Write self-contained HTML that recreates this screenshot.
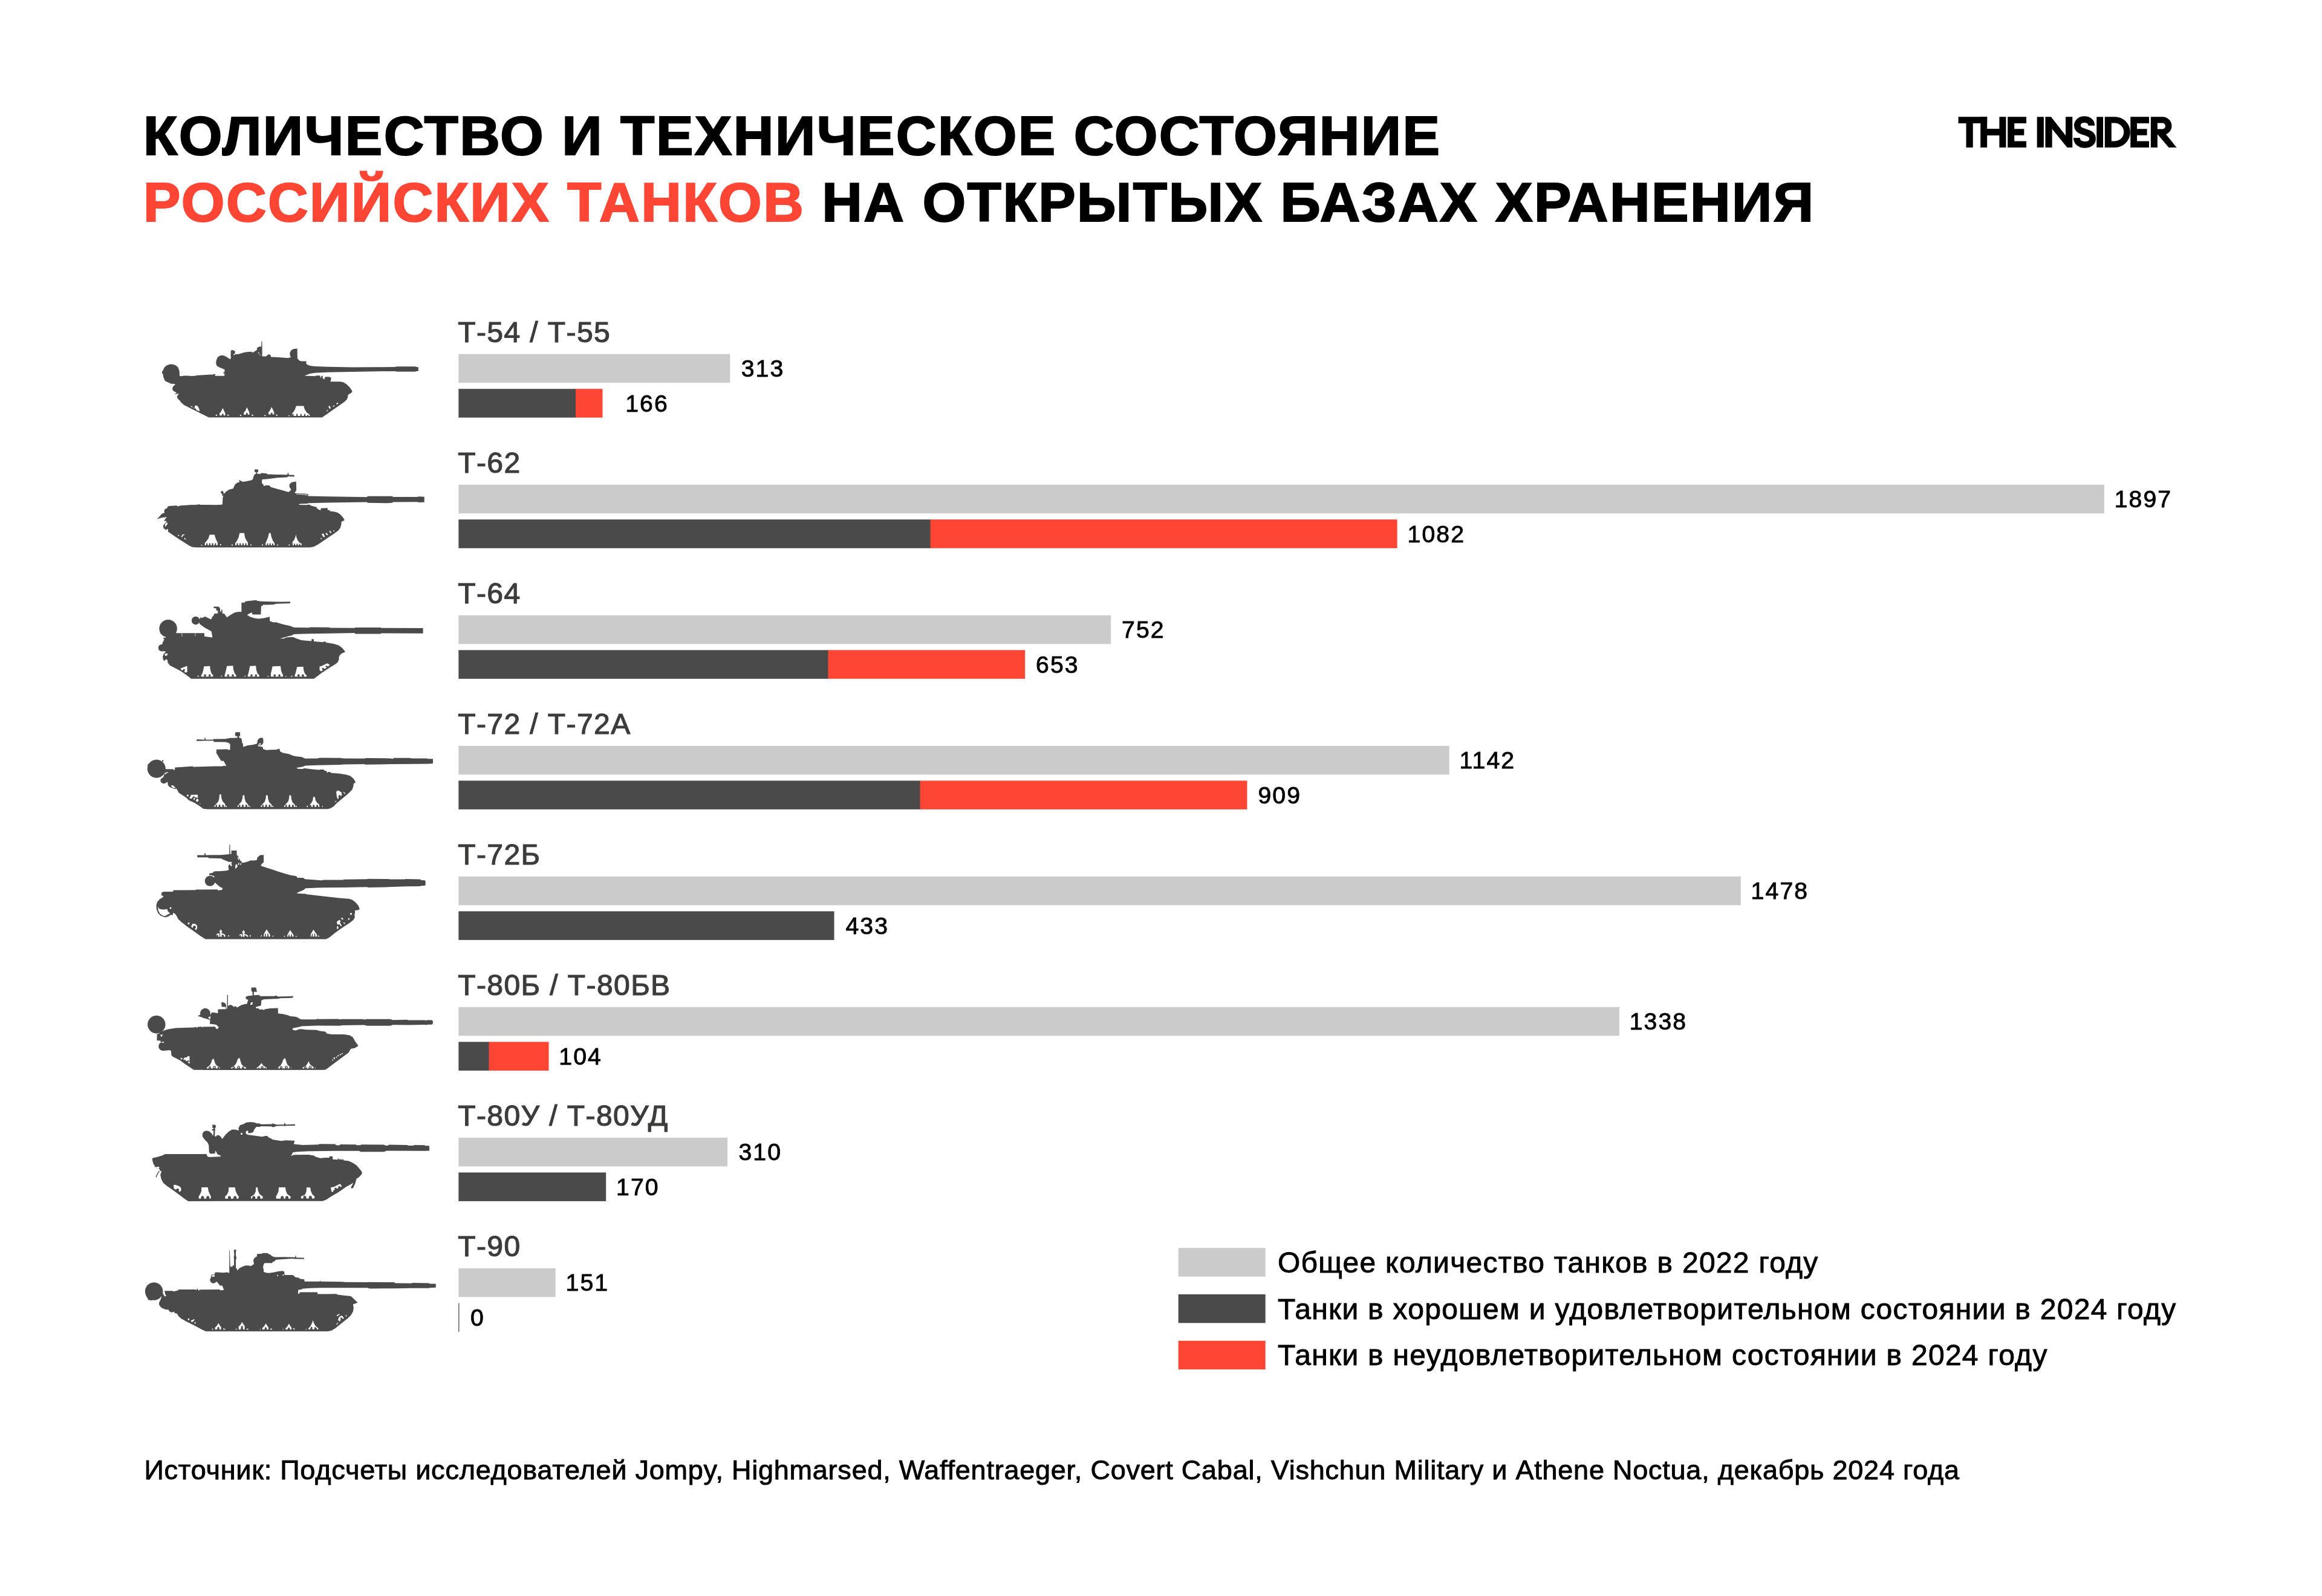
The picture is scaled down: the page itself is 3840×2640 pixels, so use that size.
<!DOCTYPE html>
<html lang="ru"><head><meta charset="utf-8"><title>chart</title>
<style>
html,body{margin:0;padding:0;background:#fff;}
body{width:3840px;height:2640px;position:relative;overflow:hidden;font-family:"Liberation Sans",sans-serif;color:#000;}
.a{position:absolute;white-space:nowrap;line-height:1;}
.t{font-weight:bold;font-size:90.5px;left:236.5px;letter-spacing:2.35px;-webkit-text-stroke:2.1px #000;transform:scaleX(1.02);transform-origin:0 0;}
.lab{font-size:48px;color:#3c3c3b;-webkit-text-stroke:1.2px #3c3c3b;left:757.2px;letter-spacing:1.42px;}
.num{font-size:39.2px;color:#000;-webkit-text-stroke:0.9px #000;letter-spacing:2.1px;}
.g{background:#cbcbcb;height:47.5px;}
.d{background:#4a4a4a;height:47.5px;}
.r{background:#ff4635;height:47.5px;}
.leg{font-size:48px;-webkit-text-stroke:0.9px #000;left:2112.9px;letter-spacing:1.28px;}
.src{font-size:45px;-webkit-text-stroke:0.9px #000;left:238.5px;letter-spacing:0.765px;}
svg{position:absolute;overflow:visible;}
#w{position:absolute;left:0;top:0;width:3840px;height:2640px;will-change:transform;}
</style></head><body><div id="w">

<div class="a t" style="top:180.1px">КОЛИЧЕСТВО И ТЕХНИЧЕСКОЕ СОСТОЯНИЕ</div>
<div class="a t" style="top:290.4px"><span style="color:#ff4635;-webkit-text-stroke-color:#ff4635">РОССИЙСКИХ ТАНКОВ</span> НА ОТКРЫТЫХ БАЗАХ ХРАНЕНИЯ</div>
<svg style="left:0;top:0" width="3840" height="300" viewBox="0 0 3840 300"><g fill="#000">
<g transform="translate(3230,180) scale(0.086133)">
<path d="M100,155H652V278H380V742H250V278H100Z"/>
<path d="M525,155H652V382H887V155H1015V742H887V510H652V742H525Z"/>
<path d="M1047,155H1405V278H1175V385H1362V508H1175V620H1405V742H1047Z"/>
<path d="M1610,155H1740V742H1610Z"/>
<path d="M1770,155H1880L2160,515V155H2290V742H2190L1900,385V742H1770Z"/>
</g>
<g transform="translate(3410,180) scale(0.086133)">
<path d="M567,322C567,250 510,205 432,205C350,205 295,255 295,320C295,400 360,420 440,445C530,472 587,500 587,575C587,645 525,690 440,690C350,690 283,640 283,558" fill="none" stroke="#000" stroke-width="125"/>
<path d="M665,155H790V742H665Z"/>
<path fill-rule="evenodd" d="M822,155H1020A290,293.5 0 0 1 1020,742H822ZM950,272H1010A177,174 0 0 1 1010,620H950Z"/>
<path d="M1315,155H1672V278H1440V385H1632V508H1440V620H1672V742H1315Z"/>
<path fill-rule="evenodd" d="M1705,155H1935A180,173 0 0 1 1995,488L2200,742H2050L1840,495H1833V742H1705ZM1833,272H1930A55,58 0 0 1 1930,388H1833Z"/>
</g></g></svg>

<div class="a lab" style="top:525.6px">Т-54 / Т-55</div>
<div class="a num" style="left:1225.7px;top:589.9px">313</div>
<div class="a num" style="left:1034.2px;top:647.5px">166</div>
<svg style="left:0;top:0" width="3840" height="2640" viewBox="0 0 3840 2640"><path fill="#4a4a4a" d="M297.21,622.33L302.38,622.02L303.41,621.50L312.71,621.50L313.75,622.02L323.05,621.81L324.08,620.98L349.92,619.43L350.96,619.95L353.02,619.12L356.64,619.12L355.09,621.81L371.11,621.81L371.42,617.88L369.04,617.36L369.56,615.81L371.63,615.30L371.11,613.23L372.14,611.68L367.49,609.61L361.29,607.03L358.19,604.44L357.16,600.83L357.67,596.18L359.74,591.01L363.36,588.42L367.49,587.70L371.63,588.73L375.76,591.01L380.41,594.32L381.96,592.04L381.45,587.91L381.76,580.16L383.00,579.12L386.61,579.43L388.68,581.19L388.68,584.29L386.61,585.84L386.10,587.91L389.20,586.05L394.37,585.84L399.53,584.29L404.70,582.74L410.90,581.91L416.07,581.71L417.62,583.26L421.24,581.19L425.37,578.60L424.86,576.02L426.41,574.47L429.51,573.23L432.09,573.23L432.30,564.65L433.44,564.65L433.64,589.46L440.36,589.46L441.91,587.39L445.01,586.05L447.60,587.39L448.11,590.49L456.38,590.80L466.72,591.52L477.05,592.25L478.09,591.52L481.19,591.01L479.64,587.91L479.33,583.77L481.19,579.64L485.32,577.36L491.52,576.54L491.58,576.54L491.89,593.07L493.44,594.63L495.50,596.69L498.60,597.42L506.36,597.42L506.87,599.28L505.84,600.83L508.42,603.41L513.07,604.96L521.34,605.99L542.02,606.72L583.36,607.55L624.70,607.34L653.64,607.03L655.71,606.20L686.72,606.20L688.27,607.03L691.89,607.24L691.89,613.75L688.27,613.95L686.72,614.78L655.71,614.78L653.64,613.95L624.70,614.26L583.36,614.99L542.02,615.81L521.34,616.64L513.07,617.88L507.39,619.95L503.77,621.81L519.28,622.02L521.34,622.53L522.38,621.19L528.58,621.19L529.61,622.53L530.65,621.81L533.23,621.81L533.95,623.26L533.54,625.32L536.33,627.70L537.36,624.08L538.91,623.26L545.12,623.57L547.70,625.32L547.18,629.04L546.15,631.32L552.35,631.32L562.69,631.32L567.86,632.35L573.02,635.45L578.19,640.62L581.81,645.79L582.53,648.37L579.22,650.96L575.61,653.02L575.09,657.16L573.54,660.78L569.92,664.39L562.69,669.56L552.35,676.80L542.02,684.03L532.71,690.44L345.27,690.44L332.35,684.03L313.75,674.73L304.44,670.08L299.28,665.43L297.21,662.33L294.63,660.26L292.87,657.16L293.59,654.06L296.18,650.96L288.94,651.99L292.04,648.89L288.42,647.86L285.84,645.79L285.01,642.69L286.36,639.07L289.97,635.97L287.91,634.94L282.74,634.63L277.57,632.35L272.92,630.28L270.34,624.08L269.30,618.09L268.06,617.88L268.06,613.95L269.30,613.75L269.82,611.68L272.40,607.03L276.54,603.93L281.71,602.58L286.36,602.79L291.01,604.44L294.63,608.06L296.69,613.75L297.00,622.02Z"/><path fill="#fff" d="M314.78,672.45L318.09,671.83L317.88,673.70L321.81,675.76L322.02,671.42L324.91,670.39L327.70,672.66L330.28,678.86L328.73,680.72L327.18,677.83L326.15,679.90L323.57,675.76ZM368.32,674.94L371.11,680.62L372.45,683.72L372.45,687.34L369.87,687.34L369.56,684.44L367.08,684.44L366.77,687.34L363.15,687.34L363.15,683.72L365.74,680.62ZM408.32,673.70L411.11,679.38L412.45,682.48L412.45,686.10L409.87,686.10L409.56,683.20L407.08,683.20L406.77,686.10L403.15,686.10L403.15,682.48L405.74,679.38ZM449.15,673.18L451.94,678.86L453.28,681.96L453.28,685.58L450.70,685.58L450.39,682.69L447.91,682.69L447.60,685.58L443.98,685.58L443.98,681.96L446.56,678.86ZM356.64,686.30L358.71,685.58L359.02,687.65L356.95,687.96ZM375.76,685.58L378.35,686.30L378.66,687.96L376.28,687.34ZM396.95,686.61L399.02,685.89L399.02,687.96L396.64,688.17ZM416.07,685.27L418.66,686.30L418.66,688.17L416.59,687.65ZM436.95,686.93L439.33,686.10L439.33,687.96L436.95,688.37ZM456.38,685.27L458.66,686.30L458.66,688.17L456.59,687.34ZM477.05,686.93L478.91,686.93L478.91,688.37L477.05,688.37ZM426.41,582.22L429.51,583.98L431.58,587.08L431.06,588.42L427.96,585.32ZM489.82,671.42L502.22,671.42L503.77,676.80L506.87,681.96L511.01,685.06L512.87,687.96L510.49,687.96L508.94,685.06L507.91,687.96L505.32,687.96L504.81,685.06L503.26,684.55L502.53,687.96L499.12,687.96L498.60,684.55L497.05,684.55L496.54,687.96L492.40,687.96L491.89,684.55L490.34,684.55L489.82,687.96L485.68,687.96L485.17,684.55L483.62,684.55L482.89,687.96L482.58,687.96L483.10,684.03L487.24,678.86ZM543.05,672.14L545.12,671.11L547.18,675.25L545.12,676.28ZM550.28,671.42L552.87,670.39L553.59,671.63L551.32,672.87ZM555.97,667.49L558.55,665.94L559.59,667.49L557.00,669.35ZM539.74,679.90L542.02,677.83L542.53,678.86L540.47,680.72ZM529.41,622.02L530.65,621.60L531.68,624.60L530.44,624.91Z"/><path fill="#4a4a4a" d="M427.96,584.29L429.51,583.57L431.78,587.08L430.54,587.70Z"/></svg>
<div class="a lab" style="top:741.6px">Т-62</div>
<div class="a num" style="left:3496.7px;top:805.9px">1897</div>
<div class="a num" style="left:2327.5px;top:863.5px">1082</div>
<svg style="left:0;top:0" width="3840" height="2640" viewBox="0 0 3840 2640"><path fill="#4a4a4a" d="M259.30,858.68L263.44,854.75L267.57,850.10L270.16,848.55L271.71,849.07L271.71,843.39L274.29,841.32L276.36,840.80L277.39,837.70L279.97,836.98L292.38,836.36L293.41,837.70L298.58,836.15L318.22,834.91L320.28,835.32L328.55,834.60L330.10,833.88L330.62,835.12L348.19,834.91L353.36,835.32L363.70,835.12L367.83,834.60L368.35,823.75L369.38,819.61L366.80,820.44L367.83,817.75L365.25,815.48L365.25,812.89L367.31,811.86L369.38,813.20L369.69,815.99L370.93,816.51L374.03,812.89L379.20,809.79L385.40,808.24L389.02,801.01L393.15,797.91L396.25,797.39L395.22,793.77L398.84,795.84L401.94,797.08L409.17,795.84L414.34,794.81L417.96,793.26L419.51,787.57L421.06,784.47L423.13,783.95L423.64,781.37L421.06,780.85L421.06,776.41L426.95,776.41L426.95,780.85L424.68,781.58L425.19,783.44L430.88,783.95L431.91,782.40L440.18,782.92L442.25,784.47L456.72,784.99L475.32,785.30L475.84,782.20L477.18,782.20L477.39,785.50L485.66,785.71L487.21,786.54L486.18,788.40L477.39,788.09L474.29,789.43L458.79,790.16L451.55,791.19L441.21,792.53L433.46,792.95L432.95,798.94L435.53,801.52L436.05,804.11L440.18,802.87L445.35,803.07L447.93,805.66L456.72,808.24L477.39,813.93L480.49,811.34L481.52,809.79L478.94,806.18L478.42,802.04L481.01,798.42L485.66,797.08L484.13,797.08L489.82,796.87L490.13,811.34L487.24,814.96L488.79,815.99L503.77,816.51L509.97,817.34L509.46,820.44L542.02,821.16L606.61,822.20L608.17,820.85L648.48,820.85L650.03,821.99L690.85,821.99L691.89,821.37L701.71,821.68L701.71,830.78L691.89,830.98L690.85,830.26L650.03,830.47L648.48,831.81L640.21,832.22L608.17,831.81L606.61,830.47L542.02,831.50L509.97,832.22L508.94,833.05L495.50,833.57L493.95,834.91L506.87,835.32L511.01,834.60L515.14,836.67L523.41,838.73L524.44,841.32L530.13,844.42L530.65,840.80L541.50,840.28L542.02,843.90L544.60,843.39L546.15,845.66L552.35,846.28L558.55,848.04L563.72,851.65L567.86,856.82L569.72,860.44L564.75,863.02L564.24,868.19L562.69,873.36L559.59,877.49L552.35,882.66L526.51,900.23L519.28,904.16L513.07,905.40L324.42,905.40L318.22,904.88L314.08,903.33L291.34,888.86L277.91,879.56L277.91,875.43L275.84,874.91L275.32,876.98L270.67,873.88L269.64,870.78L270.67,868.19L273.77,865.09L275.32,861.47L271.19,861.99L272.22,859.92L275.84,855.27L267.57,856.30Z"/><path fill="#fff" d="M273.26,866.64L276.36,863.54L277.08,866.64L274.81,869.74L272.74,871.81ZM293.93,885.25L295.99,884.52L296.51,886.28L294.44,886.59ZM299.61,887.83L301.68,884.21L304.78,883.70L305.30,884.73L302.71,885.76L301.16,888.86ZM304.26,890.41L305.81,889.38L307.36,891.96L306.33,892.79ZM346.64,884.52L354.91,884.52L355.94,888.86L358.01,894.03L360.08,897.65L359.77,898.68L338.68,898.68L340.96,895.58L344.57,890.93ZM338.68,898.17L341.06,898.17L341.06,902.09L338.68,902.09ZM343.33,898.17L345.71,898.17L345.71,902.09L343.33,902.09ZM348.09,898.17L350.36,898.17L350.36,902.09L348.09,902.09ZM352.74,898.17L355.12,898.17L355.12,902.09L352.74,902.09ZM357.39,898.17L359.77,898.17L359.77,902.09L357.39,902.09ZM396.25,881.63L404.01,881.63L405.04,888.86L407.62,894.03L410.00,897.65L410.00,898.68L389.02,898.68L392.12,894.03L394.70,888.86ZM389.02,898.17L391.40,898.17L391.40,902.09L389.02,902.09ZM393.67,898.17L396.05,898.17L396.05,902.09L393.67,902.09ZM398.32,898.17L400.70,898.17L400.70,902.09L398.32,902.09ZM402.97,898.17L405.35,898.17L405.35,902.09L402.97,902.09ZM407.62,898.17L410.00,898.17L410.00,902.09L407.62,902.09ZM444.83,881.83L447.62,881.83L448.97,888.86L451.55,895.06L454.13,898.17L454.13,898.99L438.94,898.99L440.70,895.06L443.28,888.86ZM439.15,898.17L441.32,898.17L441.32,902.09L439.15,902.09ZM443.39,898.17L445.56,898.17L445.56,902.09L443.39,902.09ZM447.73,898.17L449.90,898.17L449.90,902.09L447.73,902.09ZM451.96,898.17L454.13,898.17L454.13,902.09L451.96,902.09ZM332.69,901.06L334.24,901.06L334.24,902.51L332.69,902.51ZM363.70,899.72L365.76,900.44L365.97,902.30L363.90,901.78ZM382.82,900.75L384.88,900.44L384.88,902.30L383.13,902.51ZM413.82,900.23L415.89,900.75L415.89,902.51L414.13,902.09ZM432.95,900.75L435.01,900.44L435.01,902.30L433.15,902.51ZM458.27,900.44L459.82,900.75L460.03,902.51L458.58,902.30ZM477.39,900.75L479.25,900.44L479.25,902.30L477.60,902.51ZM489.30,884.21L490.34,888.86L492.40,894.03L495.50,897.65L498.60,899.20L498.60,899.82L483.62,899.20L483.62,896.61L486.20,893.51L488.27,888.86ZM483.93,898.68L486.10,898.68L486.10,902.09L483.93,902.09ZM488.17,898.68L490.34,898.68L490.34,902.09L488.17,902.09ZM492.40,898.68L494.57,898.68L494.57,902.09L492.40,902.09ZM496.64,898.68L498.81,898.68L498.81,902.09L496.64,902.09ZM531.68,883.70L534.78,882.14L537.36,887.83L535.30,888.86ZM537.88,882.14L540.47,881.42L542.53,884.73L540.98,885.56ZM544.08,878.53L546.15,878.01L548.22,881.11L546.98,882.14ZM551.11,877.70L552.87,876.98L553.18,878.32L551.52,879.35ZM530.13,890.41L531.68,889.69L532.20,890.93L530.65,891.96ZM489.82,817.03L503.77,817.75L508.94,818.37L508.42,819.20L502.74,818.58L490.34,817.75Z"/></svg>
<div class="a lab" style="top:957.7px">Т-64</div>
<div class="a num" style="left:1855.0px;top:1022.0px">752</div>
<div class="a num" style="left:1713.0px;top:1079.5px">653</div>
<svg style="left:0;top:0" width="3840" height="2640" viewBox="0 0 3840 2640"><path fill="#4a4a4a" d="M291.34,1047.33L337.86,1047.33L338.06,1052.70L351.29,1054.46L349.74,1044.43L337.86,1037.71L330.10,1032.03L329.59,1026.34L331.14,1021.38L334.75,1022.00L338.89,1019.63L348.19,1024.28L349.74,1024.07L350.78,1020.66L353.36,1018.07L354.39,1014.97L360.08,1014.77L360.39,1010.32L357.70,1009.81L357.49,1006.19L353.36,1005.67L353.36,1003.40L361.63,1003.40L363.70,1005.67L364.21,1011.36L365.76,1012.39L365.97,1008.57L367.62,1008.57L367.83,1014.97L370.93,1014.97L375.06,1021.18L382.30,1016.52L388.50,1013.11L394.70,1012.08L399.35,1012.08L399.35,996.89L405.04,996.58L405.56,994.82L411.24,994.10L423.64,992.75L425.71,994.10L431.91,994.82L451.55,995.13L462.92,995.54L479.97,995.34L479.97,997.92L456.72,998.64L452.58,999.99L441.21,1000.50L435.01,1000.30L434.50,1002.05L431.91,1002.57L431.40,1016.52L417.44,1016.52L416.61,1012.91L413.31,1014.46L408.66,1017.04L413.31,1020.14L420.54,1022.42L427.78,1023.45L436.05,1022.42L445.87,1020.35L446.38,1027.38L452.58,1029.44L456.72,1029.24L467.05,1032.55L479.46,1035.13L485.66,1037.71L490.34,1038.02L511.01,1038.23L513.07,1037.51L544.08,1037.71L546.15,1038.54L586.46,1038.75L587.49,1037.92L629.35,1037.92L630.39,1038.75L699.64,1038.95L699.64,1047.84L630.39,1047.53L629.35,1048.57L587.49,1048.57L586.46,1047.02L546.15,1047.84L511.01,1048.26L486.20,1049.08L482.07,1051.15L477.39,1052.18L462.92,1056.32L470.16,1056.32L472.22,1054.46L482.56,1053.73L485.17,1054.04L488.27,1055.28L490.34,1056.32L498.60,1058.90L515.14,1060.45L515.35,1057.35L518.76,1057.35L519.07,1060.97L534.78,1062.31L535.30,1061.28L538.40,1061.28L538.71,1062.73L552.35,1065.10L560.62,1067.69L565.79,1071.82L569.41,1075.96L570.96,1078.54L564.75,1081.12L561.65,1084.22L560.41,1087.33L560.62,1090.43L558.55,1095.59L554.42,1098.70L546.15,1103.86L531.68,1113.17L519.28,1122.67L316.15,1122.67L307.88,1116.27L299.61,1110.58L291.34,1105.93L281.01,1100.76L277.39,1096.11L276.87,1091.46L274.29,1090.43L271.71,1093.53L269.64,1090.43L269.12,1085.78L271.19,1081.12L274.29,1078.54L272.22,1076.99L267.57,1077.51L268.60,1063.55L271.71,1057.87L270.16,1056.32L271.19,1053.22L275.84,1051.15ZM292.89,1039.78L292.52,1043.07L291.43,1046.19L289.67,1049.00L287.33,1051.34L284.52,1053.09L281.40,1054.19L278.11,1054.56L274.83,1054.19L271.71,1053.09L268.89,1051.34L266.56,1049.00L264.80,1046.19L263.71,1043.07L263.33,1039.78L263.71,1036.49L264.80,1033.37L266.56,1030.56L268.89,1028.22L271.71,1026.47L274.83,1025.37L278.11,1025.00L281.40,1025.37L284.52,1026.47L287.33,1028.22L289.67,1030.56L291.43,1033.37L292.52,1036.49ZM273.36,1071.61L273.21,1072.91L272.79,1074.13L272.10,1075.22L271.18,1076.14L270.08,1076.83L268.86,1077.26L267.57,1077.40L266.28,1077.26L265.06,1076.83L263.96,1076.14L263.04,1075.22L262.35,1074.13L261.93,1072.91L261.78,1071.61L261.93,1070.32L262.35,1069.10L263.04,1068.01L263.96,1067.09L265.06,1066.40L266.28,1065.97L267.57,1065.83L268.86,1065.97L270.08,1066.40L271.18,1067.09L272.10,1068.01L272.79,1069.10L273.21,1070.32ZM330.31,1026.55L330.14,1028.05L329.65,1029.47L328.84,1030.74L327.78,1031.80L326.51,1032.61L325.09,1033.10L323.59,1033.27L322.09,1033.10L320.68,1032.61L319.41,1031.80L318.34,1030.74L317.53,1029.47L317.04,1028.05L316.87,1026.55L317.04,1025.05L317.53,1023.64L318.34,1022.36L319.41,1021.30L320.68,1020.49L322.09,1020.00L323.59,1019.83L325.09,1020.00L326.51,1020.49L327.78,1021.30L328.84,1022.36L329.65,1023.64L330.14,1025.05Z"/><path fill="#fff" d="M270.16,1052.18L274.29,1053.73L273.77,1055.08L270.67,1054.46ZM272.22,1081.64L276.67,1080.61L277.08,1083.71L273.26,1085.05ZM298.58,1105.41L303.75,1103.86L309.43,1101.59L309.74,1111.61L306.33,1112.65L304.78,1110.06L306.33,1107.48L303.75,1106.45L301.68,1109.03L299.61,1108.00ZM337.34,1102.31L347.16,1101.80L347.98,1108.67L349.74,1113.84L352.33,1116.89L352.33,1119.16L332.69,1119.16L332.69,1116.89L334.75,1113.84L336.10,1108.67ZM375.06,1101.80L385.40,1101.28L386.23,1108.41L387.98,1113.58L390.57,1116.89L390.57,1119.16L371.45,1119.16L371.45,1116.89L372.48,1113.58L373.82,1108.41ZM413.31,1101.80L423.13,1101.28L423.95,1108.41L425.71,1113.58L428.81,1116.89L428.81,1119.16L409.69,1119.16L409.69,1116.89L410.72,1113.58L412.07,1108.41ZM450.52,1102.31L463.95,1101.80L464.78,1108.67L466.54,1113.84L468.09,1116.89L468.09,1119.16L447.93,1119.16L447.93,1116.89L447.93,1113.84L449.28,1108.67ZM326.49,1118.13L329.07,1117.61L329.07,1118.95L326.49,1119.16ZM365.25,1118.13L367.31,1117.61L367.31,1118.95L365.25,1119.16ZM404.01,1118.33L406.07,1117.71L406.07,1119.06L404.01,1119.16ZM442.25,1118.33L444.32,1117.71L444.32,1119.06L442.25,1119.16ZM472.22,1118.13L473.77,1118.13L473.77,1119.16L472.22,1119.16ZM481.52,1118.13L483.07,1118.13L483.07,1119.16L481.52,1119.16ZM491.16,1103.35L501.50,1102.83L502.33,1109.19L504.08,1114.35L507.08,1116.89L507.08,1119.16L487.44,1119.16L487.44,1116.89L488.58,1114.35L489.92,1109.19ZM528.58,1102.31L531.68,1101.80L537.88,1098.70L540.98,1097.14L545.63,1099.73L542.02,1102.83L540.47,1100.76L538.40,1101.80L539.95,1104.90L536.33,1106.45L534.78,1104.38L532.20,1105.41L533.75,1109.03L530.65,1110.58L528.37,1108.00ZM481.03,1118.33L483.62,1117.82L483.62,1119.16L481.03,1119.37Z"/><path fill="#4a4a4a" d="M337.34,1119.16L337.34,1116.47L337.96,1115.54L340.03,1115.54L340.65,1116.47L340.65,1119.16ZM345.09,1119.16L345.09,1116.47L345.71,1115.54L347.78,1115.54L348.40,1116.47L348.40,1119.16ZM375.58,1119.16L375.58,1116.47L376.20,1115.54L378.27,1115.54L378.89,1116.47L378.89,1119.16ZM383.33,1119.16L383.33,1116.47L383.95,1115.54L386.02,1115.54L386.64,1116.47L386.64,1119.16ZM414.34,1119.16L414.34,1116.47L414.96,1115.54L417.03,1115.54L417.65,1116.47L417.65,1119.16ZM421.58,1119.16L421.58,1116.47L422.20,1115.54L424.26,1115.54L424.88,1116.47L424.88,1119.16ZM452.58,1119.16L452.58,1116.47L453.20,1115.54L455.27,1115.54L455.89,1116.47L455.89,1119.16ZM460.34,1119.16L460.34,1116.47L460.96,1115.54L463.02,1115.54L463.64,1116.47L463.64,1119.16ZM491.89,1119.16L491.89,1116.47L492.51,1115.54L494.88,1115.54L495.50,1116.47L495.50,1119.16ZM499.12,1119.16L499.12,1116.47L499.74,1115.54L502.12,1115.54L502.74,1116.47L502.74,1119.16Z"/><path fill="#fff" fill-opacity="0.55" d="M300.13,1047.53L301.47,1047.53L301.47,1052.70L300.13,1052.70ZM322.35,1047.53L323.59,1047.53L323.59,1052.18L322.35,1052.18Z"/></svg>
<div class="a lab" style="top:1173.7px">Т-72 / Т-72А</div>
<div class="a num" style="left:2413.5px;top:1238.0px">1142</div>
<div class="a num" style="left:2080.4px;top:1295.5px">909</div>
<svg style="left:0;top:0" width="3840" height="2640" viewBox="0 0 3840 2640"><path fill="#4a4a4a" d="M273.07,1272.18L286.51,1272.18L287.03,1273.73L289.10,1273.22L289.41,1269.60L312.35,1268.05L318.55,1267.53L319.59,1268.57L347.49,1267.84L353.70,1267.53L368.17,1267.53L368.68,1266.81L374.37,1267.02L371.27,1261.33L369.72,1258.75L365.58,1258.54L357.83,1245.83L357.83,1239.63L376.43,1239.32L377.47,1240.66L380.57,1239.63L380.57,1231.36L379.02,1229.29L373.33,1227.53L353.70,1227.22L353.18,1225.16L340.26,1225.16L325.79,1225.67L324.75,1224.12L325.79,1223.09L338.19,1223.40L338.71,1220.30L339.74,1220.30L340.05,1223.60L352.14,1223.60L353.18,1222.57L372.82,1222.36L380.57,1220.71L391.94,1220.50L392.97,1218.23L389.35,1217.40L388.63,1214.82L389.35,1211.20L396.59,1210.99L397.31,1214.82L396.59,1217.40L395.04,1218.23L395.56,1220.30L398.66,1221.02L400.00,1224.12L400.21,1228.26L401.76,1230.32L402.07,1235.49L409.51,1233.11L417.78,1232.08L425.01,1230.32L426.05,1224.12L429.15,1221.02L433.28,1220.30L435.14,1221.54L435.56,1228.26L433.28,1232.08L431.01,1232.39L430.18,1234.97L434.32,1235.49L435.14,1239.11L440.52,1240.66L446.72,1240.14L457.05,1239.94L462.22,1238.28L463.05,1242.73L467.39,1245.31L475.66,1246.86L480.00,1247.89L484.13,1249.96L490.34,1251.30L498.60,1252.03L501.71,1253.58L504.81,1254.82L525.48,1254.61L528.58,1253.58L562.69,1253.79L567.86,1254.61L601.96,1254.82L605.06,1254.10L645.37,1254.41L649.51,1255.13L651.58,1253.79L676.38,1253.79L681.55,1254.41L706.36,1254.41L707.39,1255.13L715.97,1255.13L715.97,1263.09L707.39,1263.40L681.55,1263.71L645.37,1264.12L605.06,1264.74L601.96,1263.91L567.86,1264.43L562.69,1264.95L525.48,1265.78L504.81,1266.50L500.67,1268.26L490.34,1270.12L492.40,1271.67L501.19,1271.98L502.22,1270.63L519.28,1272.70L528.58,1273.42L529.61,1272.70L535.81,1273.01L536.33,1274.77L539.95,1275.28L540.98,1278.59L542.53,1276.83L546.67,1277.14L547.18,1278.59L562.69,1279.63L573.02,1281.49L579.22,1283.55L584.39,1287.69L586.98,1291.82L588.01,1294.41L584.91,1295.96L584.39,1300.61L582.33,1306.29L576.12,1312.49L569.92,1317.66L562.69,1323.86L556.49,1329.03L551.32,1334.20L546.15,1337.30L542.02,1338.33L342.33,1338.54L336.12,1337.82L329.92,1333.17L322.69,1328.51L312.35,1323.86L308.22,1319.73L302.02,1315.59L295.81,1311.46L291.68,1304.22L289.61,1305.26L285.48,1303.71L280.31,1301.64L277.73,1298.54L277.21,1293.37L272.04,1296.16L267.91,1295.44L265.32,1292.34L265.84,1288.72L269.97,1285.62L271.01,1283.55ZM273.90,1271.67L273.52,1275.03L272.40,1278.21L270.60,1281.07L268.22,1283.46L265.35,1285.26L262.17,1286.37L258.81,1286.76L255.45,1286.37L252.27,1285.26L249.41,1283.46L247.02,1281.07L245.22,1278.21L244.10,1275.03L243.72,1271.67L244.10,1268.31L245.22,1265.12L247.02,1262.26L249.41,1259.87L252.27,1258.07L255.45,1256.96L258.81,1256.58L262.17,1256.96L265.35,1258.07L268.22,1259.87L270.60,1262.26L272.40,1265.12L273.52,1268.31ZM244.13,1264.95L246.20,1262.88L246.20,1275.28L244.13,1273.73ZM267.91,1257.20L269.97,1257.20L270.49,1259.78L268.42,1259.78Z"/><path fill="#fff" d="M272.04,1278.90L275.66,1277.35L276.38,1278.59L273.07,1280.97ZM276.18,1277.35L277.73,1276.83L278.04,1278.18L276.69,1278.59ZM282.89,1299.57L285.48,1298.85L289.61,1302.16L290.13,1303.71L286.51,1303.19L283.41,1301.12ZM308.73,1315.08L311.83,1314.35L311.32,1317.14L309.25,1317.14ZM313.39,1320.25L315.97,1314.77L326.82,1314.56L327.34,1319.73L323.72,1319.21L321.65,1317.66L319.59,1317.14L317.00,1320.76L314.94,1321.28ZM319.59,1321.80L321.65,1319.21L322.69,1319.73L321.14,1323.86ZM323.72,1324.90L325.27,1321.28L327.86,1321.80L328.37,1324.90L326.30,1326.45L324.96,1325.41ZM329.92,1328.51L331.47,1329.55L330.96,1330.58ZM427.08,1232.08L428.63,1229.29L430.70,1228.98L431.21,1230.84L429.15,1234.97L427.60,1234.97ZM363.00,1314.04L365.68,1314.04L366.30,1320.25L368.17,1325.62L371.27,1328.72L372.51,1330.58L372.51,1334.72L370.44,1334.72L370.03,1331.30L367.65,1330.89L367.34,1334.72L364.55,1334.72L364.24,1330.89L361.96,1330.89L361.55,1334.72L358.86,1334.72L358.86,1330.89L357.00,1331.30L356.59,1334.72L356.59,1330.58L358.86,1328.20L360.93,1325.93L362.48,1320.76ZM354.21,1332.65L356.28,1331.61L356.59,1334.20L354.52,1334.72ZM373.02,1332.65L375.09,1333.17L375.40,1334.72L373.54,1334.72ZM401.45,1315.39L404.13,1315.39L404.75,1321.59L406.61,1326.96L409.72,1330.06L410.96,1331.93L410.96,1334.72L408.89,1334.72L408.48,1331.30L406.10,1330.89L405.79,1334.72L403.00,1334.72L402.69,1330.89L400.41,1330.89L400.00,1334.72L397.31,1334.72L397.31,1330.89L395.45,1331.30L395.04,1334.72L395.04,1330.58L397.31,1328.20L399.38,1325.93L400.93,1320.76ZM392.66,1332.65L394.73,1331.61L395.04,1334.20L392.97,1334.72ZM411.47,1332.65L413.54,1333.17L413.85,1334.72L411.99,1334.72ZM440.00,1315.39L442.69,1315.39L443.31,1321.59L445.17,1326.96L448.27,1330.06L449.51,1331.93L449.51,1334.72L447.44,1334.72L447.03,1331.30L444.65,1330.89L444.34,1334.72L441.55,1334.72L441.24,1330.89L438.97,1330.89L438.55,1334.72L435.87,1334.72L435.87,1330.89L434.01,1331.30L433.59,1334.72L433.59,1330.58L435.87,1328.20L437.93,1325.93L439.48,1320.76ZM431.21,1332.65L433.28,1331.61L433.59,1334.20L431.52,1334.72ZM450.03,1332.65L452.09,1333.17L452.40,1334.72L450.54,1334.72ZM478.55,1315.59L481.24,1315.59L481.86,1321.80L483.72,1327.17L486.82,1330.27L488.06,1332.13L488.06,1334.72L485.99,1334.72L485.58,1331.30L483.20,1330.89L482.89,1334.72L480.10,1334.72L479.79,1330.89L477.52,1330.89L477.11,1334.72L474.42,1334.72L474.42,1330.89L472.56,1331.30L472.14,1334.72L472.14,1330.58L474.42,1328.20L476.49,1325.93L478.04,1320.76ZM469.77,1332.65L471.83,1331.61L472.14,1334.20L470.08,1334.72ZM488.58,1332.65L490.65,1333.17L490.96,1334.72L489.10,1334.72ZM518.04,1318.18L520.72,1318.18L521.76,1323.86L524.44,1328.00L527.86,1330.58L528.37,1334.72L526.30,1334.72L525.89,1331.61L523.41,1331.30L523.00,1334.72L520.31,1334.72L519.90,1331.30L517.52,1331.30L517.21,1334.72L514.94,1334.72L514.52,1331.61L513.07,1331.93L512.87,1334.72L512.87,1330.58L515.14,1328.00L517.21,1323.86ZM507.08,1333.17L508.94,1332.65L509.15,1334.72L507.39,1335.03ZM532.71,1332.96L533.95,1333.17L533.95,1334.72L532.71,1334.72ZM555.97,1309.39L559.59,1307.33L562.69,1309.39L564.75,1310.43L565.27,1314.56L564.24,1317.14L561.65,1314.56L559.59,1316.63L560.10,1320.76L558.55,1321.80L557.00,1318.18L556.49,1313.53ZM567.34,1310.43L568.89,1310.22L571.47,1312.49L570.75,1313.53ZM554.21,1325.41L555.97,1324.38L556.28,1325.72L554.63,1326.96Z"/><path fill="#4a4a4a" d="M428.32,1229.81L429.97,1229.81L428.63,1232.70L427.91,1232.08Z"/></svg>
<div class="a lab" style="top:1389.7px">Т-72Б</div>
<div class="a num" style="left:2895.6px;top:1454.0px">1478</div>
<div class="a num" style="left:1398.4px;top:1511.6px">433</div>
<svg style="left:0;top:0" width="3840" height="2640" viewBox="0 0 3840 2640"><path fill="#4a4a4a" d="M267.07,1477.90L267.61,1476.29L270.30,1474.89L285.91,1474.89L286.77,1472.52L323.60,1472.30L324.67,1471.23L328.44,1471.44L359.66,1471.23L360.74,1473.06L367.74,1471.66L367.74,1468.75L363.97,1467.35L356.97,1461.21L354.28,1458.52L353.20,1453.68L352.67,1449.91L350.51,1447.76L346.21,1447.76L346.21,1444.74L351.05,1443.99L354.82,1441.30L363.43,1441.08L374.20,1440.22L378.51,1438.93L377.43,1432.68L379.58,1429.45L382.81,1427.84L383.89,1425.68L378.51,1425.68L374.20,1424.07L368.82,1421.70L365.59,1419.98L345.13,1419.55L344.05,1418.15L326.83,1418.15L325.96,1416.53L326.29,1414.38L338.13,1414.38L338.13,1411.37L339.75,1411.37L339.96,1414.38L351.59,1414.16L364.51,1414.16L374.20,1413.52L379.15,1413.09L379.37,1396.94L380.44,1396.94L380.66,1413.09L382.60,1412.76L382.60,1407.06L391.43,1406.84L391.64,1414.38L394.12,1416.53L395.73,1420.84L397.89,1424.07L400.04,1425.68L399.50,1427.30L404.35,1426.76L411.88,1424.61L412.96,1423.53L421.57,1423.21L424.80,1422.45L425.66,1418.15L430.19,1414.38L436.11,1414.16L436.11,1426.22L432.88,1428.91L431.26,1432.14L437.72,1434.30L442.03,1435.70L449.57,1438.07L460.33,1441.83L471.10,1445.06L480.77,1447.76L490.46,1449.37L491.53,1452.06L501.22,1452.06L504.45,1454.22L532.45,1456.15L534.60,1455.51L566.90,1455.51L569.05,1454.75L606.74,1454.22L608.89,1453.68L642.27,1454.00L644.42,1454.43L669.18,1454.43L670.26,1454.00L695.02,1454.43L696.10,1455.83L702.56,1456.15L703.63,1457.45L703.63,1463.91L702.56,1464.98L696.10,1465.20L695.02,1466.06L670.26,1466.27L642.27,1467.35L608.89,1468.00L606.74,1467.14L569.05,1468.00L532.45,1468.21L505.53,1469.29L502.30,1471.98L495.84,1474.67L490.46,1477.36L493.15,1478.12L505.53,1478.44L506.61,1479.19L534.60,1482.42L561.52,1485.44L577.67,1486.73L583.05,1488.67L588.43,1492.98L592.74,1498.36L594.89,1503.74L592.74,1505.36L586.82,1505.90L587.36,1508.05L586.28,1513.43L586.82,1517.20L584.13,1522.05L577.67,1526.89L566.90,1533.89L556.13,1541.43L544.29,1551.12L538.91,1553.48L339.75,1553.48L331.13,1547.89L320.37,1540.35L309.60,1532.81L298.83,1524.20L294.53,1519.89L292.37,1515.59L290.22,1512.36L286.45,1509.66L285.70,1513.43L281.61,1513.43L278.38,1516.12L272.99,1517.20L265.99,1515.05L261.15,1510.20L258.78,1503.74L258.46,1497.28L260.07,1491.90L263.84,1487.59L269.22,1484.36L270.30,1482.21L267.07,1481.13ZM355.79,1457.23L355.57,1459.13L354.95,1460.92L353.94,1462.54L352.59,1463.88L350.98,1464.90L349.18,1465.52L347.28,1465.74L345.39,1465.52L343.59,1464.90L341.97,1463.88L340.63,1462.54L339.62,1460.92L338.99,1459.13L338.78,1457.23L338.99,1455.34L339.62,1453.54L340.63,1451.92L341.97,1450.58L343.59,1449.57L345.39,1448.94L347.28,1448.73L349.18,1448.94L350.98,1449.57L352.59,1450.58L353.94,1451.92L354.95,1453.54L355.57,1455.34Z"/><path fill="#fff" d="M260.93,1498.90L262.76,1502.67L266.53,1504.28L271.92,1504.60L276.76,1503.74L277.30,1506.97L279.45,1509.13L281.61,1511.06L279.45,1511.49L276.22,1513.43L272.99,1515.37L268.69,1514.51L264.38,1511.28L261.69,1505.90ZM310.14,1527.21L312.29,1525.49L313.91,1526.89L311.75,1529.58ZM316.06,1532.81L318.21,1527.97L322.52,1527.97L325.75,1530.66L326.29,1534.43L324.67,1538.20L321.98,1537.12L324.13,1533.89L323.06,1531.20L320.37,1531.20L318.21,1534.97ZM380.87,1428.38L382.27,1427.84L383.89,1432.14L381.74,1432.68L380.12,1430.53ZM389.81,1429.99L391.96,1429.45L392.72,1433.76L389.27,1437.53L389.06,1432.68ZM394.12,1427.30L395.73,1427.08L395.19,1430.53L393.58,1431.07ZM397.35,1428.38L398.96,1427.30L398.42,1430.53L397.02,1431.07ZM392.72,1418.15L394.12,1417.61L395.19,1421.92L394.12,1422.45ZM351.59,1448.83L353.20,1448.40L354.82,1450.99L353.74,1451.42ZM365.05,1537.12L367.74,1541.43L366.45,1541.96L366.66,1544.12L370.43,1544.87L372.58,1546.81L372.58,1549.50L370.43,1549.50L369.89,1546.81L366.66,1545.73L366.66,1549.50L363.97,1549.50L363.97,1541.96L362.36,1541.64ZM362.89,1544.12L362.89,1549.50L360.74,1549.50L360.42,1545.73L358.59,1546.27L358.26,1549.50L357.83,1545.73L359.66,1544.12ZM377.21,1547.02L379.04,1547.35L379.04,1549.18L377.21,1548.96ZM402.73,1538.20L405.42,1542.50L404.13,1543.04L404.35,1545.19L408.11,1545.95L410.27,1547.89L410.27,1549.50L408.11,1549.50L407.58,1547.89L404.35,1546.81L404.35,1549.50L401.65,1549.50L401.65,1543.04L400.04,1542.72ZM400.58,1545.19L400.58,1549.50L398.42,1549.50L398.10,1546.81L396.27,1547.35L395.95,1549.50L395.52,1546.81L397.35,1545.19ZM412.96,1547.02L414.90,1547.35L414.90,1549.18L412.96,1548.96ZM440.95,1537.33L444.18,1542.50L446.34,1545.19L446.87,1549.18L444.18,1549.18L443.64,1545.19L442.24,1543.04L442.03,1549.18L439.66,1549.18L439.66,1543.36L438.26,1545.19L437.72,1549.18L436.11,1549.18L436.43,1544.66L438.26,1541.64ZM431.80,1547.35L433.42,1546.81L432.34,1549.18L431.05,1549.18ZM450.64,1547.67L452.26,1547.67L452.26,1549.18L450.64,1549.18ZM479.93,1538.73L483.16,1543.90L485.31,1546.59L485.85,1549.18L483.16,1549.18L482.62,1546.59L481.22,1544.44L481.00,1549.18L478.63,1549.18L478.63,1544.76L477.24,1546.59L476.70,1549.18L475.08,1549.18L475.40,1546.06L477.24,1543.04ZM469.48,1547.89L471.10,1547.89L471.10,1549.39L469.48,1549.39ZM489.19,1547.89L490.48,1547.89L490.48,1549.39L489.19,1549.39ZM283.65,1502.13L283.61,1502.46L283.50,1502.78L283.32,1503.06L283.08,1503.30L282.80,1503.48L282.48,1503.59L282.14,1503.63L281.81,1503.59L281.49,1503.48L281.21,1503.30L280.97,1503.06L280.79,1502.78L280.68,1502.46L280.64,1502.13L280.68,1501.79L280.79,1501.47L280.97,1501.19L281.21,1500.95L281.49,1500.77L281.81,1500.66L282.14,1500.62L282.48,1500.66L282.80,1500.77L283.08,1500.95L283.32,1501.19L283.50,1501.47L283.61,1501.79ZM479.91,1538.41L483.14,1543.58L485.29,1546.27L485.83,1549.18L483.14,1549.18L482.60,1546.27L481.20,1544.12L480.98,1549.18L478.61,1549.18L478.61,1544.44L477.21,1546.27L476.68,1549.18L475.06,1549.18L475.38,1545.73L477.21,1542.72ZM488.84,1547.89L489.92,1547.89L489.92,1549.18L488.84,1549.18ZM518.45,1537.66L521.68,1542.83L523.83,1545.52L524.37,1549.18L521.68,1549.18L521.14,1545.52L519.74,1543.36L519.53,1549.18L517.16,1549.18L517.16,1543.69L515.76,1545.52L515.22,1549.18L513.60,1549.18L513.93,1544.98L515.76,1541.96ZM525.77,1547.02L528.14,1548.75L527.60,1549.82L525.45,1548.42ZM556.99,1524.74L560.98,1521.51L563.67,1523.66L562.05,1525.81L565.28,1531.20L563.67,1532.27L561.52,1529.04L558.82,1529.58L557.42,1527.97ZM557.21,1532.81L558.82,1531.52L559.90,1534.97L558.07,1536.90L556.99,1535.50ZM563.67,1518.82L565.82,1517.74L567.98,1520.43L566.36,1521.51ZM567.44,1526.14L569.05,1525.81L571.21,1527.97L570.13,1528.51ZM575.51,1519.35L577.67,1518.60L578.20,1520.75L576.37,1521.83ZM578.74,1510.42L581.76,1509.99L581.76,1512.89L579.28,1513.43Z"/></svg>
<div class="a lab" style="top:1605.8px">Т-80Б / Т-80БВ</div>
<div class="a num" style="left:2694.7px;top:1670.1px">1338</div>
<div class="a num" style="left:924.3px;top:1727.6px">104</div>
<svg style="left:0;top:0" width="3840" height="2640" viewBox="0 0 3840 2640"><path fill="#4a4a4a" d="M272.87,1703.90L279.28,1702.35L290.65,1700.49L320.62,1699.46L324.75,1698.73L325.79,1700.28L327.86,1698.22L330.96,1698.73L332.51,1697.70L333.54,1699.25L336.12,1698.42L349.56,1698.22L355.76,1698.22L357.31,1701.32L359.38,1702.35L361.45,1699.77L358.86,1697.18L357.83,1695.12L346.98,1693.57L347.49,1687.36L326.82,1680.44L330.96,1678.58L339.22,1678.58L348.01,1678.58L350.59,1674.44L360.41,1675.99L360.41,1669.48L373.33,1669.28L373.33,1665.66L366.61,1665.14L366.10,1658.11L369.20,1658.11L372.30,1659.46L373.85,1662.04L374.37,1668.76L375.61,1668.76L375.61,1645.71L376.95,1645.71L376.95,1664.11L380.05,1662.25L383.15,1662.56L385.74,1664.63L387.29,1665.66L388.84,1664.11L391.42,1665.66L391.94,1666.69L398.14,1663.07L404.34,1661.01L408.48,1660.49L409.51,1656.87L410.54,1653.98L406.61,1652.22L406.41,1648.81L410.54,1647.36L417.57,1646.74L417.57,1641.16L415.71,1638.79L415.50,1633.62L423.46,1633.62L424.50,1638.79L425.53,1640.34L419.84,1640.85L419.84,1646.33L429.15,1645.71L429.66,1647.78L453.95,1647.78L454.99,1647.05L458.09,1647.36L459.12,1648.40L480.00,1648.09L484.65,1647.40L484.65,1650.30L480.00,1650.67L462.22,1651.19L461.19,1651.91L453.95,1652.22L436.38,1652.95L432.25,1654.81L431.73,1663.28L422.95,1665.66L423.46,1667.73L428.11,1668.24L429.15,1670.10L433.28,1669.48L436.38,1670.83L438.45,1669.28L446.72,1668.04L459.64,1667.42L459.95,1676.51L467.39,1677.34L476.69,1679.61L480.00,1680.99L486.20,1681.51L491.37,1682.55L495.50,1685.13L498.60,1686.16L523.41,1686.16L524.44,1685.13L527.55,1685.65L559.59,1685.44L561.65,1686.16L565.79,1685.85L599.90,1685.65L601.96,1686.47L607.13,1685.65L645.37,1685.65L649.51,1687.20L673.28,1686.68L675.35,1687.51L702.22,1687.51L705.32,1687.92L707.39,1687.20L714.63,1687.51L715.87,1689.26L715.87,1692.88L714.63,1694.74L707.39,1694.74L705.32,1695.47L702.22,1694.95L676.38,1695.47L649.51,1695.16L645.37,1696.81L607.13,1696.81L601.96,1695.47L565.79,1695.98L561.65,1696.81L524.44,1696.50L498.60,1697.53L493.44,1699.08L484.13,1700.63L484.13,1703.73L489.30,1704.46L493.44,1702.70L498.60,1702.18L505.84,1703.22L523.41,1703.73L528.58,1705.28L535.81,1706.32L538.91,1706.83L539.95,1709.42L548.22,1710.97L568.89,1710.97L578.19,1712.52L583.36,1715.62L587.49,1722.86L592.66,1730.09L586.46,1733.71L580.26,1734.74L578.19,1738.36L576.12,1741.46L568.89,1746.63L552.35,1759.03L538.91,1769.37L320.62,1769.74L312.35,1764.37L306.15,1760.23L297.88,1754.03L285.48,1747.83L283.41,1745.25L282.89,1738.53L280.31,1736.98L276.69,1737.49L271.01,1738.01L265.32,1721.47L259.43,1720.96L259.64,1710.62L262.22,1710.10L266.87,1706.49ZM273.59,1694.60L273.22,1697.89L272.12,1701.01L270.37,1703.82L268.03,1706.16L265.22,1707.91L262.10,1709.01L258.81,1709.38L255.52,1709.01L252.40,1707.91L249.59,1706.16L247.26,1703.82L245.50,1701.01L244.40,1697.89L244.03,1694.60L244.40,1691.31L245.50,1688.19L247.26,1685.38L249.59,1683.04L252.40,1681.29L255.52,1680.19L258.81,1679.82L262.10,1680.19L265.22,1681.29L268.03,1683.04L270.37,1685.38L272.12,1688.19L273.22,1691.31ZM347.80,1676.20L347.60,1678.06L346.98,1679.83L345.97,1681.42L344.65,1682.74L343.06,1683.75L341.29,1684.37L339.43,1684.57L337.57,1684.37L335.80,1683.75L334.21,1682.74L332.89,1681.42L331.89,1679.83L331.27,1678.06L331.06,1676.20L331.27,1674.34L331.89,1672.57L332.89,1670.98L334.21,1669.66L335.80,1668.66L337.57,1668.04L339.43,1667.83L341.29,1668.04L343.06,1668.66L344.65,1669.66L345.97,1670.98L346.98,1672.57L347.60,1674.34ZM276.69,1730.78L276.51,1732.39L275.98,1733.92L275.11,1735.28L273.96,1736.43L272.60,1737.30L271.07,1737.82L269.46,1738.01L267.84,1737.82L266.32,1737.30L264.95,1736.43L263.80,1735.28L262.94,1733.92L262.41,1732.39L262.22,1730.78L262.41,1729.16L262.94,1727.63L263.80,1726.27L264.95,1725.12L266.32,1724.25L267.84,1723.73L269.46,1723.54L271.07,1723.73L272.60,1724.25L273.96,1725.12L275.11,1726.27L275.98,1727.63L276.51,1729.16Z"/><path fill="#fff" d="M265.01,1711.65L268.94,1711.14L268.42,1713.72L266.67,1715.27ZM267.08,1724.06L269.97,1723.02L272.04,1724.57L267.39,1725.09ZM343.88,1683.23L348.01,1680.65L347.70,1686.33ZM355.76,1698.73L358.86,1695.63L359.90,1697.70L361.96,1698.22L360.41,1700.28L359.90,1702.35L357.83,1701.32ZM413.64,1662.04L415.19,1658.11L417.98,1657.70L417.26,1662.04ZM297.88,1750.41L300.98,1749.69L302.02,1751.45L299.95,1752.48ZM303.05,1751.96L306.15,1748.86L308.22,1749.38L310.28,1747.31L313.39,1746.80L313.59,1755.58L311.32,1754.03L308.73,1755.06L306.15,1754.03L306.67,1751.96L304.60,1753.51ZM310.28,1756.61L312.35,1755.58L314.42,1758.17L312.87,1759.20ZM549.04,1753.35L550.28,1752.31L551.11,1753.66L549.77,1754.90ZM551.32,1749.73L553.39,1748.70L554.21,1751.28L552.35,1752.31ZM555.45,1748.18L557.00,1747.45L557.52,1749.21L556.28,1749.94ZM558.04,1745.80L560.10,1745.08L560.62,1746.83L558.76,1747.66ZM561.65,1744.04L563.93,1743.32L564.24,1744.77L562.17,1745.80ZM564.75,1742.49L566.82,1741.98L567.03,1743.32L565.27,1744.04ZM353.26,1751.01L354.81,1756.18L356.36,1760.31L358.94,1762.89L363.59,1765.99L363.59,1767.75L341.89,1767.75L341.89,1765.99L346.54,1762.38L349.12,1758.24L350.67,1753.07ZM396.15,1749.46L397.70,1755.14L399.25,1760.31L402.35,1763.41L407.00,1765.99L407.00,1767.75L382.20,1767.75L382.20,1765.99L387.88,1762.38L390.98,1758.24L393.05,1752.04ZM432.33,1758.45L435.43,1762.38L441.11,1766.30L441.11,1767.75L424.57,1767.75L424.57,1766.51L429.22,1762.38ZM471.60,1749.97L473.15,1755.14L474.70,1760.31L477.80,1763.41L481.94,1765.99L481.94,1767.75L460.23,1767.75L460.23,1765.48L464.37,1761.86L466.43,1758.24L468.50,1752.56ZM510.36,1755.14L512.43,1760.31L516.05,1763.41L521.73,1765.99L521.73,1767.75L500.54,1767.75L500.54,1765.68L505.71,1762.89L508.29,1759.79Z"/><path fill="#4a4a4a" d="M349.02,1765.68L348.82,1766.53L348.27,1767.22L347.49,1767.60L346.62,1767.60L345.83,1767.22L345.29,1766.53L345.09,1765.68L345.29,1764.84L345.83,1764.14L346.62,1763.77L347.49,1763.77L348.27,1764.14L348.82,1764.84ZM345.09,1765.68L349.02,1765.68L349.02,1768.17L345.09,1768.17ZM356.98,1765.48L356.74,1766.51L356.08,1767.34L355.13,1767.79L354.07,1767.79L353.12,1767.34L352.46,1766.51L352.22,1765.48L352.46,1764.44L353.12,1763.62L354.07,1763.16L355.13,1763.16L356.08,1763.62L356.74,1764.44ZM352.22,1765.48L356.98,1765.48L356.98,1767.96L352.22,1767.96ZM362.35,1766.20L362.22,1766.78L361.84,1767.26L361.31,1767.51L360.71,1767.51L360.17,1767.26L359.80,1766.78L359.66,1766.20L359.80,1765.62L360.17,1765.15L360.71,1764.89L361.31,1764.89L361.84,1765.15L362.22,1765.62ZM359.66,1766.20L362.35,1766.20L362.35,1768.68L359.66,1768.68ZM388.60,1765.68L388.41,1766.53L387.86,1767.22L387.07,1767.60L386.21,1767.60L385.42,1767.22L384.87,1766.53L384.68,1765.68L384.87,1764.84L385.42,1764.14L386.21,1763.77L387.07,1763.77L387.86,1764.14L388.41,1764.84ZM384.68,1765.68L388.60,1765.68L388.60,1768.17L384.68,1768.17ZM396.98,1765.48L396.74,1766.51L396.08,1767.34L395.13,1767.79L394.07,1767.79L393.12,1767.34L392.46,1766.51L392.22,1765.48L392.46,1764.44L393.12,1763.62L394.07,1763.16L395.13,1763.16L396.08,1763.62L396.74,1764.44ZM392.22,1765.48L396.98,1765.48L396.98,1767.96L392.22,1767.96ZM403.59,1765.79L403.42,1766.55L402.93,1767.16L402.23,1767.50L401.44,1767.50L400.74,1767.16L400.25,1766.55L400.08,1765.79L400.25,1765.02L400.74,1764.41L401.44,1764.07L402.23,1764.07L402.93,1764.41L403.42,1765.02ZM400.08,1765.79L403.59,1765.79L403.59,1768.27L400.08,1768.27ZM435.84,1765.48L435.62,1766.42L435.02,1767.17L434.16,1767.60L433.18,1767.60L432.32,1767.17L431.72,1766.42L431.50,1765.48L431.72,1764.54L432.32,1763.78L433.18,1763.36L434.16,1763.36L435.02,1763.78L435.62,1764.54ZM431.50,1765.48L435.84,1765.48L435.84,1767.96L431.50,1767.96ZM429.12,1766.72L429.03,1767.12L428.77,1767.44L428.40,1767.63L427.98,1767.63L427.61,1767.44L427.35,1767.12L427.26,1766.72L427.35,1766.32L427.61,1765.99L427.98,1765.81L428.40,1765.81L428.77,1765.99L429.03,1766.32ZM427.26,1766.72L429.12,1766.72L429.12,1769.20L427.26,1769.20ZM439.46,1766.72L439.36,1767.12L439.11,1767.44L438.73,1767.63L438.32,1767.63L437.95,1767.44L437.69,1767.12L437.60,1766.72L437.69,1766.32L437.95,1765.99L438.32,1765.81L438.73,1765.81L439.11,1765.99L439.36,1766.32ZM437.60,1766.72L439.46,1766.72L439.46,1769.20L437.60,1769.20ZM466.95,1765.48L466.74,1766.38L466.18,1767.09L465.35,1767.49L464.42,1767.49L463.59,1767.09L463.02,1766.38L462.82,1765.48L463.02,1764.58L463.59,1763.87L464.42,1763.46L465.35,1763.46L466.18,1763.87L466.74,1764.58ZM462.82,1765.48L466.95,1765.48L466.95,1767.96L462.82,1767.96ZM475.84,1765.27L475.60,1766.30L474.94,1767.13L473.99,1767.59L472.94,1767.59L471.98,1767.13L471.32,1766.30L471.09,1765.27L471.32,1764.24L471.98,1763.41L472.94,1762.96L473.99,1762.96L474.94,1763.41L475.60,1764.24ZM471.09,1765.27L475.84,1765.27L475.84,1767.75L471.09,1767.75ZM481.52,1765.79L481.36,1766.50L480.90,1767.08L480.24,1767.40L479.50,1767.40L478.84,1767.08L478.38,1766.50L478.22,1765.79L478.38,1765.07L478.84,1764.50L479.50,1764.18L480.24,1764.18L480.90,1764.50L481.36,1765.07ZM478.22,1765.79L481.52,1765.79L481.52,1768.27L478.22,1768.27ZM506.85,1765.48L506.65,1766.33L506.10,1767.02L505.32,1767.39L504.45,1767.39L503.66,1767.02L503.12,1766.33L502.92,1765.48L503.12,1764.63L503.66,1763.94L504.45,1763.57L505.32,1763.57L506.10,1763.94L506.65,1764.63ZM502.92,1765.48L506.85,1765.48L506.85,1767.96L502.92,1767.96ZM515.32,1765.27L515.09,1766.30L514.42,1767.13L513.47,1767.59L512.42,1767.59L511.47,1767.13L510.81,1766.30L510.57,1765.27L510.81,1764.24L511.47,1763.41L512.42,1762.96L513.47,1762.96L514.42,1763.41L515.09,1764.24ZM510.57,1765.27L515.32,1765.27L515.32,1767.75L510.57,1767.75ZM521.01,1766.10L520.87,1766.68L520.50,1767.15L519.96,1767.41L519.36,1767.41L518.83,1767.15L518.45,1766.68L518.32,1766.10L518.45,1765.52L518.83,1765.04L519.36,1764.79L519.96,1764.79L520.50,1765.04L520.87,1765.52ZM518.32,1766.10L521.01,1766.10L521.01,1768.58L518.32,1768.58Z"/><path fill="#fff" d="M347.78,1765.68L347.64,1766.11L347.28,1766.38L346.83,1766.38L346.47,1766.11L346.33,1765.68L346.47,1765.26L346.83,1764.99L347.28,1764.99L347.64,1765.26ZM355.74,1765.48L355.52,1766.15L354.95,1766.56L354.25,1766.56L353.68,1766.15L353.46,1765.48L353.68,1764.81L354.25,1764.39L354.95,1764.39L355.52,1764.81ZM387.36,1765.68L387.23,1766.11L386.87,1766.38L386.41,1766.38L386.05,1766.11L385.92,1765.68L386.05,1765.26L386.41,1764.99L386.87,1764.99L387.23,1765.26ZM395.74,1765.48L395.52,1766.15L394.95,1766.56L394.25,1766.56L393.68,1766.15L393.46,1765.48L393.68,1764.81L394.25,1764.39L394.95,1764.39L395.52,1764.81ZM402.35,1765.79L402.25,1766.09L401.99,1766.28L401.68,1766.28L401.42,1766.09L401.32,1765.79L401.42,1765.49L401.68,1765.29L401.99,1765.29L402.25,1765.49ZM434.60,1765.48L434.42,1766.03L433.96,1766.37L433.38,1766.37L432.91,1766.03L432.74,1765.48L432.91,1764.93L433.38,1764.59L433.96,1764.59L434.42,1764.93ZM465.71,1765.48L465.56,1765.96L465.14,1766.26L464.63,1766.26L464.21,1765.96L464.06,1765.48L464.21,1764.99L464.63,1764.69L465.14,1764.69L465.56,1764.99ZM474.60,1765.27L474.38,1765.94L473.81,1766.36L473.11,1766.36L472.54,1765.94L472.33,1765.27L472.54,1764.60L473.11,1764.19L473.81,1764.19L474.38,1764.60ZM480.28,1765.79L480.20,1766.04L479.99,1766.18L479.75,1766.18L479.54,1766.04L479.46,1765.79L479.54,1765.54L479.75,1765.40L479.99,1765.40L480.20,1765.54ZM505.61,1765.48L505.47,1765.90L505.11,1766.17L504.66,1766.17L504.29,1765.90L504.16,1765.48L504.29,1765.05L504.66,1764.79L505.11,1764.79L505.47,1765.05ZM514.08,1765.27L513.87,1765.94L513.30,1766.36L512.59,1766.36L512.03,1765.94L511.81,1765.27L512.03,1764.60L512.59,1764.19L513.30,1764.19L513.87,1764.60Z"/><path fill="#4a4a4a" d="M336.20,1767.55L536.72,1767.55L536.72,1769.82L336.20,1769.82Z"/></svg>
<div class="a lab" style="top:1821.8px">Т-80У / Т-80УД</div>
<div class="a num" style="left:1221.4px;top:1886.1px">310</div>
<div class="a num" style="left:1019.0px;top:1943.6px">170</div>
<svg style="left:0;top:0" width="3840" height="2640" viewBox="0 0 3840 2640"><path fill="#4a4a4a" d="M251.72,1915.63L259.47,1914.08L267.74,1911.50L273.42,1909.12L341.64,1909.12L342.67,1912.02L346.81,1913.88L348.36,1912.02L365.41,1912.02L363.86,1910.98L359.73,1909.43L358.18,1906.85L356.11,1903.75L355.59,1907.88L348.36,1908.40L345.78,1906.33L345.26,1894.44L343.19,1889.79L338.54,1885.14L334.92,1879.97L334.72,1875.32L336.99,1871.71L341.12,1870.16L345.78,1871.19L349.39,1874.29L352.49,1878.94L353.32,1870.16L350.43,1869.64L350.43,1868.09L353.01,1867.57L353.32,1866.02L351.25,1865.50L351.25,1860.34L356.11,1860.85L357.14,1862.92L356.42,1865.50L355.08,1866.54L356.11,1868.09L355.59,1870.16L355.08,1879.46L357.14,1879.97L358.70,1877.91L361.80,1877.70L364.90,1879.97L367.48,1884.11L369.03,1882.04L373.17,1876.87L378.33,1871.71L383.50,1868.60L389.70,1868.60L394.87,1870.16L394.35,1866.02L396.94,1861.37L403.14,1859.30L407.27,1856.72L414.51,1855.99L420.71,1856.72L424.84,1858.27L430.01,1858.48L431.05,1859.82L449.65,1859.51L450.68,1858.27L454.82,1859.51L456.89,1860.13L469.81,1860.13L470.12,1858.06L471.87,1858.06L472.18,1860.13L485.00,1859.82L487.24,1859.51L488.06,1860.34L487.75,1862.20L485.00,1861.89L472.18,1862.20L471.36,1863.23L470.12,1862.20L456.89,1862.40L454.82,1863.64L450.68,1864.47L449.13,1863.23L431.05,1862.92L430.01,1863.95L423.81,1863.95L420.71,1868.09L418.64,1872.74L414.51,1874.29L410.37,1874.29L410.37,1870.67L408.31,1870.16L406.24,1872.22L406.76,1875.32L409.34,1877.08L420.71,1878.42L433.11,1880.18L439.32,1878.94L442.93,1879.15L443.45,1881.01L447.58,1883.07L451.72,1885.14L465.16,1887.21L472.39,1886.18L485.00,1886.69L487.24,1887.00L486.20,1891.34L485.68,1892.58L500.67,1893.93L526.51,1893.20L528.58,1892.17L554.42,1892.58L555.45,1894.24L561.65,1894.44L562.69,1892.89L588.53,1893.20L589.56,1894.24L595.76,1894.24L597.83,1893.20L635.04,1893.41L637.11,1894.65L641.24,1894.96L643.31,1893.62L673.28,1893.93L675.35,1894.96L683.62,1894.96L685.17,1893.93L702.22,1894.24L703.77,1895.27L709.97,1895.27L709.97,1903.54L702.22,1903.75L639.17,1903.54L635.04,1905.30L596.80,1905.30L593.70,1903.75L552.35,1903.75L511.01,1904.26L490.34,1905.30L484.13,1906.33L482.07,1910.98L480.00,1912.02L483.10,1911.50L486.20,1910.16L509.97,1909.95L519.28,1911.50L521.34,1913.26L529.61,1915.63L537.88,1915.12L544.60,1914.91L544.91,1912.84L550.08,1912.84L550.28,1917.70L558.55,1918.22L559.07,1916.15L560.10,1916.15L560.62,1918.22L562.69,1916.98L563.72,1918.73L565.79,1917.18L566.82,1919.04L567.86,1916.67L568.37,1919.46L576.12,1920.28L583.36,1923.39L589.56,1927.52L595.76,1934.75L598.86,1938.89L598.35,1941.99L593.70,1947.16L589.56,1949.74L587.49,1957.49L583.88,1965.25L581.29,1965.76L580.26,1964.21L584.39,1956.46L579.22,1959.56L573.02,1962.66L568.89,1965.76L562.69,1969.90L556.49,1974.03L547.18,1979.20L539.95,1984.37L533.75,1986.64L311.15,1986.95L304.95,1982.82L296.68,1976.61L286.34,1968.86L276.01,1961.63L269.81,1956.46L266.71,1950.26L265.16,1943.54L267.22,1937.34L263.09,1936.82L260.50,1939.92L257.40,1946.64L258.44,1947.67L261.54,1940.96L265.16,1935.79L262.05,1932.69L258.95,1932.69L258.44,1930.10L254.82,1930.41L256.37,1929.07L253.79,1925.45L252.24,1920.28Z"/><path fill="#fff" d="M258.95,1930.62L261.54,1929.38L263.81,1931.14L263.09,1932.69L259.47,1932.89ZM342.67,1909.43L345.78,1909.12L347.33,1912.02L364.90,1912.22L365.41,1913.26L347.33,1914.08L343.19,1913.26ZM355.80,1903.23L358.70,1906.85L356.11,1906.85ZM397.97,1874.81L399.52,1873.57L401.07,1874.81L400.56,1877.08L398.49,1877.08ZM286.86,1960.59L289.44,1959.77L293.58,1961.11L296.68,1962.14L299.26,1964.73L299.78,1968.86L297.71,1971.45L295.65,1970.41L296.16,1967.31L293.58,1965.76L290.48,1967.83L287.89,1966.28ZM333.37,1963.90L343.71,1963.90L344.74,1969.90L347.02,1975.27L348.88,1979.20L348.36,1982.82L329.03,1982.82L328.51,1979.20L330.48,1976.10L332.86,1970.93ZM378.33,1963.90L388.67,1963.90L389.70,1969.90L391.98,1975.27L394.87,1979.20L394.35,1982.82L372.65,1982.82L372.13,1979.20L375.44,1976.10L377.82,1970.93ZM423.29,1963.90L425.88,1963.90L426.91,1969.90L429.19,1975.27L434.66,1979.20L434.15,1982.82L415.54,1982.82L415.03,1979.20L420.40,1976.10L422.78,1970.93ZM461.02,1963.90L471.87,1963.90L472.91,1969.90L475.18,1975.27L480.66,1979.20L480.14,1982.82L456.89,1982.82L456.37,1979.20L458.13,1976.10L460.50,1970.93ZM507.08,1964.21L513.07,1964.21L514.11,1970.21L516.38,1975.58L520.31,1978.89L519.79,1982.51L498.09,1982.51L497.57,1978.89L504.19,1976.41L506.56,1971.24ZM546.98,1964.21L552.35,1963.18L558.55,1960.08L562.69,1958.32L565.27,1962.14L563.20,1963.70L561.65,1961.63L559.07,1962.66L559.59,1965.25L557.00,1966.28L555.45,1964.21L552.87,1965.76L553.90,1968.35L551.32,1968.86L550.80,1971.96L548.22,1970.93Z"/><path fill="#4a4a4a" d="M337.40,1980.85L337.28,1981.62L336.93,1982.31L336.38,1982.86L335.69,1983.21L334.92,1983.33L334.16,1983.21L333.47,1982.86L332.92,1982.31L332.57,1981.62L332.44,1980.85L332.57,1980.09L332.92,1979.40L333.47,1978.85L334.16,1978.50L334.92,1978.37L335.69,1978.50L336.38,1978.85L336.93,1979.40L337.28,1980.09ZM332.44,1980.85L337.40,1980.85L337.40,1983.54L332.44,1983.54ZM346.19,1980.85L346.06,1981.62L345.71,1982.31L345.17,1982.86L344.47,1983.21L343.71,1983.33L342.94,1983.21L342.25,1982.86L341.70,1982.31L341.35,1981.62L341.23,1980.85L341.35,1980.09L341.70,1979.40L342.25,1978.85L342.94,1978.50L343.71,1978.37L344.47,1978.50L345.17,1978.85L345.71,1979.40L346.06,1980.09ZM341.23,1980.85L346.19,1980.85L346.19,1983.54L341.23,1983.54ZM381.85,1980.85L381.72,1981.62L381.37,1982.31L380.82,1982.86L380.13,1983.21L379.37,1983.33L378.60,1983.21L377.91,1982.86L377.36,1982.31L377.01,1981.62L376.89,1980.85L377.01,1980.09L377.36,1979.40L377.91,1978.85L378.60,1978.50L379.37,1978.37L380.13,1978.50L380.82,1978.85L381.37,1979.40L381.72,1980.09ZM376.89,1980.85L381.85,1980.85L381.85,1983.54L376.89,1983.54ZM391.15,1980.85L391.03,1981.62L390.67,1982.31L390.13,1982.86L389.43,1983.21L388.67,1983.33L387.90,1983.21L387.21,1982.86L386.66,1982.31L386.31,1981.62L386.19,1980.85L386.31,1980.09L386.66,1979.40L387.21,1978.85L387.90,1978.50L388.67,1978.37L389.43,1978.50L390.13,1978.85L390.67,1979.40L391.03,1980.09ZM386.19,1980.85L391.15,1980.85L391.15,1983.54L386.19,1983.54ZM422.16,1980.85L422.03,1981.62L421.68,1982.31L421.13,1982.86L420.44,1983.21L419.68,1983.33L418.91,1983.21L418.22,1982.86L417.67,1982.31L417.32,1981.62L417.20,1980.85L417.32,1980.09L417.67,1979.40L418.22,1978.85L418.91,1978.50L419.68,1978.37L420.44,1978.50L421.13,1978.85L421.68,1979.40L422.03,1980.09ZM417.20,1980.85L422.16,1980.85L422.16,1983.54L417.20,1983.54ZM430.43,1980.85L430.30,1981.62L429.95,1982.31L429.40,1982.86L428.71,1983.21L427.95,1983.33L427.18,1983.21L426.49,1982.86L425.94,1982.31L425.59,1981.62L425.47,1980.85L425.59,1980.09L425.94,1979.40L426.49,1978.85L427.18,1978.50L427.95,1978.37L428.71,1978.50L429.40,1978.85L429.95,1979.40L430.30,1980.09ZM425.47,1980.85L430.43,1980.85L430.43,1983.54L425.47,1983.54ZM469.19,1980.85L469.06,1981.62L468.71,1982.31L468.16,1982.86L467.47,1983.21L466.71,1983.33L465.94,1983.21L465.25,1982.86L464.70,1982.31L464.35,1981.62L464.22,1980.85L464.35,1980.09L464.70,1979.40L465.25,1978.85L465.94,1978.50L466.71,1978.37L467.47,1978.50L468.16,1978.85L468.71,1979.40L469.06,1980.09ZM464.22,1980.85L469.19,1980.85L469.19,1983.54L464.22,1983.54ZM476.94,1980.85L476.81,1981.62L476.46,1982.31L475.91,1982.86L475.22,1983.21L474.46,1983.33L473.69,1983.21L473.00,1982.86L472.45,1982.31L472.10,1981.62L471.98,1980.85L472.10,1980.09L472.45,1979.40L473.00,1978.85L473.69,1978.50L474.46,1978.37L475.22,1978.50L475.91,1978.85L476.46,1979.40L476.81,1980.09ZM471.98,1980.85L476.94,1980.85L476.94,1983.54L471.98,1983.54ZM506.46,1980.54L506.34,1981.31L505.98,1982.00L505.44,1982.55L504.74,1982.90L503.98,1983.02L503.21,1982.90L502.52,1982.55L501.97,1982.00L501.62,1981.31L501.50,1980.54L501.62,1979.78L501.97,1979.09L502.52,1978.54L503.21,1978.19L503.98,1978.06L504.74,1978.19L505.44,1978.54L505.98,1979.09L506.34,1979.78ZM501.50,1980.54L506.46,1980.54L506.46,1983.23L501.50,1983.23ZM515.76,1980.54L515.64,1981.31L515.29,1982.00L514.74,1982.55L514.05,1982.90L513.28,1983.02L512.52,1982.90L511.82,1982.55L511.28,1982.00L510.93,1981.31L510.80,1980.54L510.93,1979.78L511.28,1979.09L511.82,1978.54L512.52,1978.19L513.28,1978.06L514.05,1978.19L514.74,1978.54L515.29,1979.09L515.64,1979.78ZM510.80,1980.54L515.76,1980.54L515.76,1983.23L510.80,1983.23Z"/></svg>
<div class="a lab" style="top:2037.8px">Т-90</div>
<div class="a num" style="left:935.5px;top:2102.1px">151</div>
<div class="a num" style="left:778.1px;top:2159.7px">0</div>
<svg style="left:0;top:0" width="3840" height="2640" viewBox="0 0 3840 2640"><path fill="#4a4a4a" d="M268.59,2139.45L270.66,2138.94L272.21,2140.49L273.76,2142.55L272.00,2135.32L285.65,2135.32L286.68,2136.35L293.91,2134.80L295.47,2133.04L322.86,2133.04L324.92,2134.28L325.75,2132.01L326.99,2132.01L328.02,2134.80L331.12,2133.25L363.17,2133.04L364.20,2134.28L370.40,2134.08L368.33,2128.60L367.30,2126.53L363.68,2126.53L361.10,2122.91L358.51,2120.33L352.83,2117.75L348.70,2112.58L349.73,2108.44L354.90,2108.24L355.41,2104.83L359.03,2104.52L369.37,2105.34L375.57,2104.52L379.19,2105.86L379.19,2068.34L379.91,2068.34L380.74,2095.01L383.84,2095.83L384.87,2093.46L386.94,2092.94L387.14,2082.60L386.42,2079.50L387.45,2076.40L386.94,2070.20L386.73,2067.31L390.87,2067.31L390.04,2070.20L390.04,2076.40L391.07,2080.54L390.04,2084.67L390.04,2097.07L391.59,2098.63L392.62,2101.42L396.24,2097.59L401.41,2095.01L404.51,2093.97L405.54,2093.15L412.78,2093.46L414.84,2094.49L415.88,2093.46L420.01,2091.08L418.98,2084.67L421.05,2080.54L424.66,2078.47L425.18,2074.34L433.45,2073.82L434.48,2072.79L442.75,2072.79L443.79,2074.34L446.89,2075.37L449.99,2077.95L455.16,2079.50L470.66,2079.30L488.20,2079.71L488.41,2076.92L489.44,2076.92L489.75,2080.33L502.67,2080.54L503.19,2082.60L489.75,2082.40L482.00,2082.09L467.56,2083.12L456.19,2083.64L454.12,2086.22L451.02,2087.26L449.99,2089.32L437.58,2089.32L436.03,2091.39L435.00,2096.04L436.03,2100.18L436.03,2103.79L439.65,2105.34L444.82,2105.86L452.05,2104.83L460.32,2103.07L467.56,2102.24L470.14,2103.79L470.66,2108.96L475.00,2108.96L482.00,2108.96L485.10,2109.48L488.20,2112.58L492.34,2113.61L494.92,2113.41L495.44,2115.16L503.19,2116.20L503.71,2119.81L528.51,2119.81L529.55,2118.78L530.58,2119.81L566.75,2120.33L569.86,2120.85L607.06,2121.05L610.17,2120.64L651.51,2121.05L653.58,2122.40L680.45,2122.71L682.52,2122.09L709.39,2122.40L710.94,2123.43L720.76,2123.43L720.76,2129.63L710.94,2130.15L709.39,2130.67L682.52,2130.67L651.51,2131.18L612.23,2131.39L607.06,2130.15L566.75,2130.36L530.58,2130.15L513.01,2130.67L499.57,2131.70L499.05,2133.04L493.37,2133.46L492.85,2139.97L495.23,2139.97L495.64,2137.59L524.89,2137.39L525.20,2140.49L544.02,2140.49L556.42,2140.28L557.97,2141.52L569.86,2143.07L580.19,2144.10L586.39,2149.79L591.56,2154.75L583.81,2157.54L584.84,2163.22L583.81,2169.43L580.19,2175.63L575.02,2180.80L564.69,2189.06L554.35,2197.33L548.15,2200.95L541.95,2202.29L340.43,2202.29L334.22,2199.40L322.86,2193.20L307.35,2185.45L299.08,2180.80L294.95,2176.66L292.88,2173.04L288.75,2172.01L287.71,2169.43L284.61,2170.98L280.48,2169.43L278.41,2166.33L274.28,2166.33L268.07,2163.74L264.97,2161.16L262.91,2157.54L263.42,2153.92L266.01,2148.75ZM269.42,2136.04L269.05,2139.33L267.95,2142.45L266.19,2145.26L263.86,2147.60L261.05,2149.35L257.93,2150.45L254.64,2150.82L251.35,2150.45L248.23,2149.35L245.42,2147.60L243.08,2145.26L241.33,2142.45L240.23,2139.33L239.86,2136.04L240.23,2132.75L241.33,2129.63L243.08,2126.82L245.42,2124.49L248.23,2122.73L251.35,2121.63L254.64,2121.26L257.93,2121.63L261.05,2122.73L263.86,2124.49L266.19,2126.82L267.95,2129.63L269.05,2132.75ZM358.31,2117.23L358.17,2118.45L357.77,2119.61L357.11,2120.64L356.24,2121.51L355.21,2122.17L354.05,2122.57L352.83,2122.71L351.61,2122.57L350.45,2122.17L349.42,2121.51L348.55,2120.64L347.89,2119.61L347.49,2118.45L347.35,2117.23L347.49,2116.01L347.89,2114.85L348.55,2113.82L349.42,2112.95L350.45,2112.29L351.61,2111.89L352.83,2111.75L354.05,2111.89L355.21,2112.29L356.24,2112.95L357.11,2113.82L357.77,2114.85L358.17,2116.01ZM247.40,2142.55L251.54,2151.34L245.34,2150.30L241.20,2142.55Z"/><path fill="#fff" d="M269.32,2139.97L271.18,2138.63L275.10,2143.59L272.42,2144.41ZM350.25,2109.48L354.90,2109.27L354.90,2111.75L350.56,2112.06ZM458.26,2108.96L459.81,2108.65L460.12,2110.72L458.46,2110.72ZM467.04,2108.44L469.42,2108.24L469.42,2109.99L467.35,2109.99ZM310.45,2181.31L312.73,2180.80L313.35,2183.38L310.97,2183.90ZM315.62,2184.41L319.75,2182.86L322.03,2181.83L320.79,2184.41L317.69,2187.00L316.14,2185.96ZM321.30,2187.51L323.37,2187.00L323.89,2189.27L322.03,2189.58ZM361.30,2188.55L363.68,2192.68L365.75,2195.27L365.44,2199.19L362.96,2199.19L362.34,2195.27L360.06,2194.75L359.03,2199.19L355.72,2199.19L355.41,2196.30L358.51,2193.20ZM350.56,2197.85L352.31,2197.85L352.31,2199.61L350.56,2199.61ZM368.85,2197.33L372.47,2198.37L372.47,2199.61L369.16,2199.19ZM400.37,2186.79L402.75,2190.93L404.82,2193.51L404.51,2199.19L402.03,2199.19L401.41,2193.51L399.13,2192.99L398.10,2199.19L394.79,2199.19L394.48,2194.54L397.58,2191.44ZM389.83,2197.85L391.28,2197.85L391.28,2199.40L389.83,2199.40ZM407.61,2197.54L410.71,2198.37L410.71,2199.61L407.82,2199.19ZM439.65,2189.06L442.03,2193.20L444.10,2195.78L443.79,2199.19L441.30,2199.19L440.68,2195.78L438.41,2195.27L437.38,2199.19L434.07,2199.19L433.76,2196.82L436.86,2193.72ZM429.83,2198.16L430.87,2198.16L430.87,2199.40L429.83,2199.40ZM446.89,2197.33L449.99,2198.37L449.99,2199.61L447.09,2199.19ZM477.89,2189.58L480.27,2193.72L482.34,2196.30L482.03,2199.19L479.55,2199.19L478.93,2196.30L476.65,2195.78L475.62,2199.19L472.31,2199.19L472.00,2197.33L475.10,2194.23ZM467.56,2198.16L468.80,2198.16L468.80,2199.40L467.56,2199.40ZM517.66,2183.90L519.21,2189.06L521.79,2193.20L525.93,2196.82L526.65,2198.88L524.89,2199.19L522.83,2196.30L520.24,2195.06L519.73,2198.88L516.63,2198.88L516.32,2195.06L514.25,2194.75L513.01,2198.88L510.11,2198.88L509.91,2197.33L513.01,2194.23L515.59,2189.58ZM505.57,2198.16L506.81,2198.16L506.81,2199.40L505.57,2199.40ZM484.58,2196.82L486.65,2197.33L487.68,2199.19L485.62,2199.19ZM556.63,2175.63L561.07,2173.35L561.79,2174.59L557.45,2177.18ZM561.07,2178.21L564.69,2176.14L566.75,2177.18L568.82,2180.80L566.75,2181.83L564.69,2178.94L562.62,2179.76L563.65,2182.86L561.07,2183.90L559.52,2180.80ZM558.49,2182.86L560.55,2181.83L563.65,2184.93L561.59,2185.76ZM555.90,2190.61L559.00,2187.20L559.31,2188.55L556.63,2191.34ZM570.89,2176.14L573.47,2175.11L572.96,2177.70Z"/></svg>
<div class="a leg" style="top:2064.8px">Общее количество танков в 2022 году</div>
<div class="a leg" style="top:2141.6px">Танки в хорошем и удовлетворительном состоянии в 2024 году</div>
<div class="a leg" style="top:2218.4px">Танки в неудовлетворительном состоянии в 2024 году</div>
<svg style="left:0;top:0" width="3840" height="2640" viewBox="0 0 3840 2640"><rect x="758.30" y="585.70" width="449.06" height="47.50" fill="#cbcbcb"/><rect x="758.30" y="643.25" width="194.68" height="47.50" fill="#4a4a4a"/><rect x="951.98" y="643.25" width="44.48" height="47.50" fill="#ff4635"/><rect x="758.30" y="801.73" width="2721.63" height="47.50" fill="#cbcbcb"/><rect x="758.30" y="859.28" width="781.33" height="47.50" fill="#4a4a4a"/><rect x="1538.63" y="859.28" width="772.01" height="47.50" fill="#ff4635"/><rect x="758.30" y="1017.76" width="1078.89" height="47.50" fill="#cbcbcb"/><rect x="758.30" y="1075.31" width="612.18" height="47.50" fill="#4a4a4a"/><rect x="1369.48" y="1075.31" width="325.68" height="47.50" fill="#ff4635"/><rect x="758.30" y="1233.79" width="1638.43" height="47.50" fill="#cbcbcb"/><rect x="758.30" y="1291.34" width="764.26" height="47.50" fill="#4a4a4a"/><rect x="1521.56" y="1291.34" width="540.88" height="47.50" fill="#ff4635"/><rect x="758.30" y="1449.82" width="2120.49" height="47.50" fill="#cbcbcb"/><rect x="758.30" y="1507.37" width="621.23" height="47.50" fill="#4a4a4a"/><rect x="758.30" y="1665.85" width="1919.63" height="47.50" fill="#cbcbcb"/><rect x="758.30" y="1723.40" width="51.21" height="47.50" fill="#4a4a4a"/><rect x="808.51" y="1723.40" width="98.99" height="47.50" fill="#ff4635"/><rect x="758.30" y="1881.88" width="444.76" height="47.50" fill="#cbcbcb"/><rect x="758.30" y="1939.43" width="243.90" height="47.50" fill="#4a4a4a"/><rect x="758.30" y="2097.91" width="160.40" height="47.50" fill="#cbcbcb"/><rect x="758.10" y="2155.46" width="1.40" height="47.50" fill="#5a5a5a"/><rect x="1948.70" y="2064.20" width="144.00" height="47.40" fill="#cbcbcb"/><rect x="1948.70" y="2141.00" width="144.00" height="47.40" fill="#4a4a4a"/><rect x="1948.70" y="2217.80" width="144.00" height="47.40" fill="#ff4635"/></svg>
<div class="a src" style="top:2409px">Источник: Подсчеты исследователей Jompy, Highmarsed, Waffentraeger, Covert Cabal, Vishchun Military и Athene Noctua, декабрь 2024 года</div>
</div></body></html>
